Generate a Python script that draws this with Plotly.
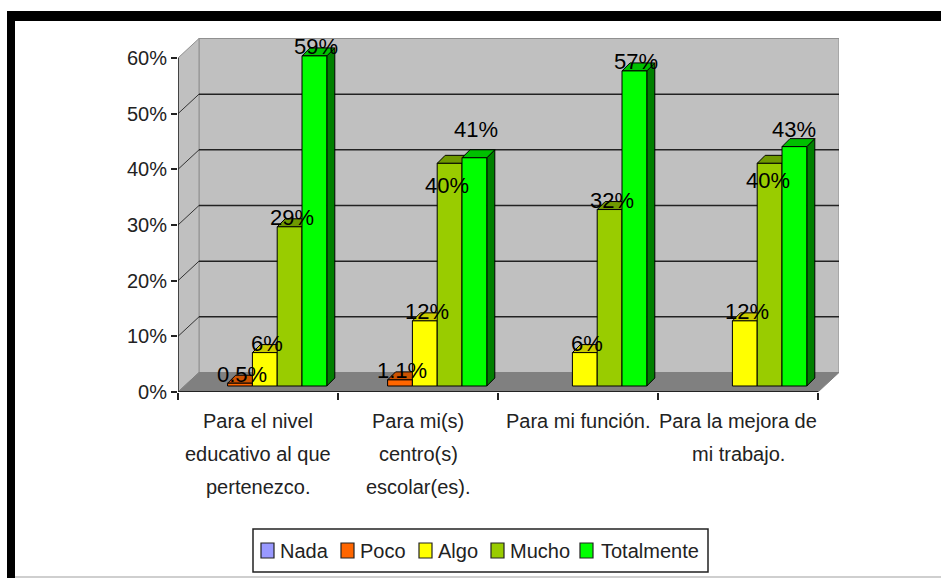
import plotly.graph_objects as go

category_lines = [["Para el nivel", "educativo al que", "pertenezco."],
                  ["Para mi(s)", "centro(s)", "escolar(es)."],
                  ["Para mi función."],
                  ["Para la mejora de", "mi trabajo."]]
series_names = ["Nada", "Poco", "Algo", "Mucho", "Totalmente"]
nada = [None, None, None, None]
poco = [0.5, 1.1, None, None]
algo = [6, 11.7, 6, 11.7]
mucho = [28.6, 40, 31.7, 40]
totalmente = [59.3, 41, 56.6, 43]
poco_labels = ["0.5%", "1.1%", "", ""]
algo_labels = ["6%", "12%", "6%", "12%"]
mucho_labels = ["29%", "40%", "32%", "40%"]
total_labels = ["59%", "41%", "57%", "43%"]
y_ticks = [0, 10, 20, 30, 40, 50, 60]
y_tick_labels = ["0%", "10%", "20%", "30%", "40%", "50%", "60%"]

colors = ["#9999FF", "#FF6600", "#FFFF00", "#99CC00", "#00FF00"]
top_colors = ["#7777CC", "#CC5200", "#CCCC00", "#6F9900", "#00C000"]
side_colors = ["#555599", "#993D00", "#999900", "#5C8000", "#008000"]

FONT = "Liberation Sans, Arial, sans-serif"
W, H = 941, 578
L, R, T, B = 178, 839, 38, 392
x_per_px = 1 / 160.0
y_per_px = 60 / 334.0
X_MAX = (R - L) * x_per_px
Y_MAX = (B - T) * y_per_px
DX, DY = 21 * x_per_px, 19.5 * y_per_px      # wall depth
BDX, BDY = 8 * x_per_px, 8 * y_per_px        # bar depth
FLOOR = 6 * y_per_px                         # bars stand in the middle of the floor
BAR_W = 0.155
N = len(category_lines)


def px_x(p):
    return (p - L) / (R - L)


def px_y(p):
    return (B - p) / (B - T)


def poly(pts, fill, line="black", width=1, layer="below"):
    path = "M " + " L ".join(f"{a:.4f},{b:.4f}" for a, b in pts) + " Z"
    return dict(type="path", path=path, xref="x", yref="y", fillcolor=fill,
                line=dict(color=line, width=width), layer=layer)


def seg(a, b, c, d, color="#222222", width=1.5):
    return dict(type="line", xref="x", yref="y", x0=a, y0=b, x1=c, y1=d,
                line=dict(color=color, width=width), layer="below")


def paper_rect(x0, y0, x1, y1, fill, line=None, width=0):
    return dict(type="rect", xref="paper", yref="paper", x0=px_x(x0), x1=px_x(x1),
                y0=px_y(y0), y1=px_y(y1), fillcolor=fill,
                line=dict(color=line, width=width), layer="below")


shapes = []
# picture frame
shapes.append(paper_rect(7, 11, W, 21, "black"))
shapes.append(paper_rect(7, 11, 15, H, "black"))
shapes.append(paper_rect(15, 576, W, 578, "#CFCFCF"))
# walls
shapes.append(poly([(DX, DY), (DX, 60 + DY), (N + DX, 60 + DY), (N + DX, DY)], "#C0C0C0", "#909090"))
shapes.append(poly([(0, 0), (0, 60), (DX, 60 + DY), (DX, DY)], "#C0C0C0", "#909090"))
shapes.append(poly([(0, 0), (N, 0), (N + DX, DY), (DX, DY)], "#808080", "#808080"))
# gridlines
for v in y_ticks[1:-1]:
    shapes.append(seg(DX, v + DY, N + DX, v + DY))
    shapes.append(seg(0, v, DX, v + DY, "#333333", 1))
# axis lines
shapes.append(seg(0, 0, 0, 60, "#222222", 1.5))
shapes.append(seg(0, 0, N, 0, "#222222", 2))

all_values = [nada, poco, algo, mucho, totalmente]
all_labels = [[""] * 4, poco_labels, algo_labels, mucho_labels, total_labels]


def bar_x(group, k):
    return group + BAR_W + k * BAR_W + BAR_W / 2


# bar depth faces, from the data
for k, vals in enumerate(all_values):
    for g, v in enumerate(vals):
        if v is None:
            continue
        x1 = bar_x(g, k) + BAR_W / 2
        x0 = x1 - BAR_W
        top = FLOOR + v
        shapes.append(poly([(x1, FLOOR), (x1, top), (x1 + BDX, top + BDY), (x1 + BDX, FLOOR + BDY)],
                           side_colors[k]))
        shapes.append(poly([(x0, top), (x1, top), (x1 + BDX, top + BDY), (x0 + BDX, top + BDY)],
                           top_colors[k]))

fig = go.Figure()
for k, (name, vals) in enumerate(zip(series_names, all_values)):
    fig.add_bar(x=[bar_x(g, k) for g in range(N)], y=vals,
                base=FLOOR, width=BAR_W, name=name, hoverinfo="skip", showlegend=False,
                marker=dict(color=colors[k], line=dict(color="black", width=1)))

# label nudges (px) where the original labels were moved off their default spot
label_nudge = {(1, 4): (2, 28), (1, 3): (-3, -22), (3, 3): (-2, -17), (3, 4): (0, 17)}
annotations = []
for k, (vals, labs) in enumerate(zip(all_values, all_labels)):
    for g, (v, t) in enumerate(zip(vals, labs)):
        if v is None or not t:
            continue
        xs, ys = label_nudge.get((g, k), (2, 9))
        annotations.append(dict(x=bar_x(g, k), y=FLOOR + v, xref="x", yref="y", text=t,
                                showarrow=False, xanchor="center", yanchor="middle",
                                xshift=xs, yshift=ys, font=dict(family=FONT, size=22, color="black")))
# category labels, line by line (the original has very open leading)
for g, lines in enumerate(category_lines):
    for j, line in enumerate(lines):
        annotations.append(dict(x=g + 0.5, y=px_y(421 + 33 * j), xref="x", yref="paper", text=line,
                                showarrow=False, xanchor="center", yanchor="middle",
                                font=dict(family=FONT, size=20, color="#222222")))

# legend box with tight spacing the built-in legend cannot reach
legend_swatch_x = [261, 341, 419, 491, 580]
legend_text_x = [280, 360, 438, 510, 601]
shapes.append(paper_rect(253, 529, 708, 572, "white", "#222222", 1.5))
for name, col, sx, tx in zip(series_names, colors, legend_swatch_x, legend_text_x):
    shapes.append(paper_rect(sx, 543, sx + 13, 558, col, "#222222", 1.2))
    annotations.append(dict(x=px_x(tx), y=px_y(550.5), xref="paper", yref="paper", text=name,
                            showarrow=False, xanchor="left", yanchor="middle", xshift=-2,
                            font=dict(family=FONT, size=20, color="#222222")))

fig.update_layout(
    width=W, height=H, autosize=False, barmode="overlay",
    margin=dict(l=L, r=W - R, t=T, b=H - B, pad=0, autoexpand=False),
    paper_bgcolor="white", plot_bgcolor="rgba(0,0,0,0)",
    shapes=shapes, annotations=annotations,
    font=dict(family=FONT, size=20, color="#222222"),
    xaxis=dict(range=[0, X_MAX], tickmode="array", tickvals=list(range(N + 1)),
               ticktext=[""] * (N + 1), ticks="outside", ticklen=7, tickcolor="#222222", tickwidth=1.5,
               showgrid=False, zeroline=False, showline=False),
    yaxis=dict(range=[0, Y_MAX], tickmode="array", tickvals=y_ticks, ticktext=y_tick_labels,
               ticks="outside", ticklen=6, tickcolor="#222222", tickwidth=1.5,
               showgrid=False, zeroline=False, showline=False, ticklabelstandoff=0),
    showlegend=False,
)
fig.write_html("out.html", config=dict(displayModeBar=False),
               post_script="document.body.style.margin='0';")
